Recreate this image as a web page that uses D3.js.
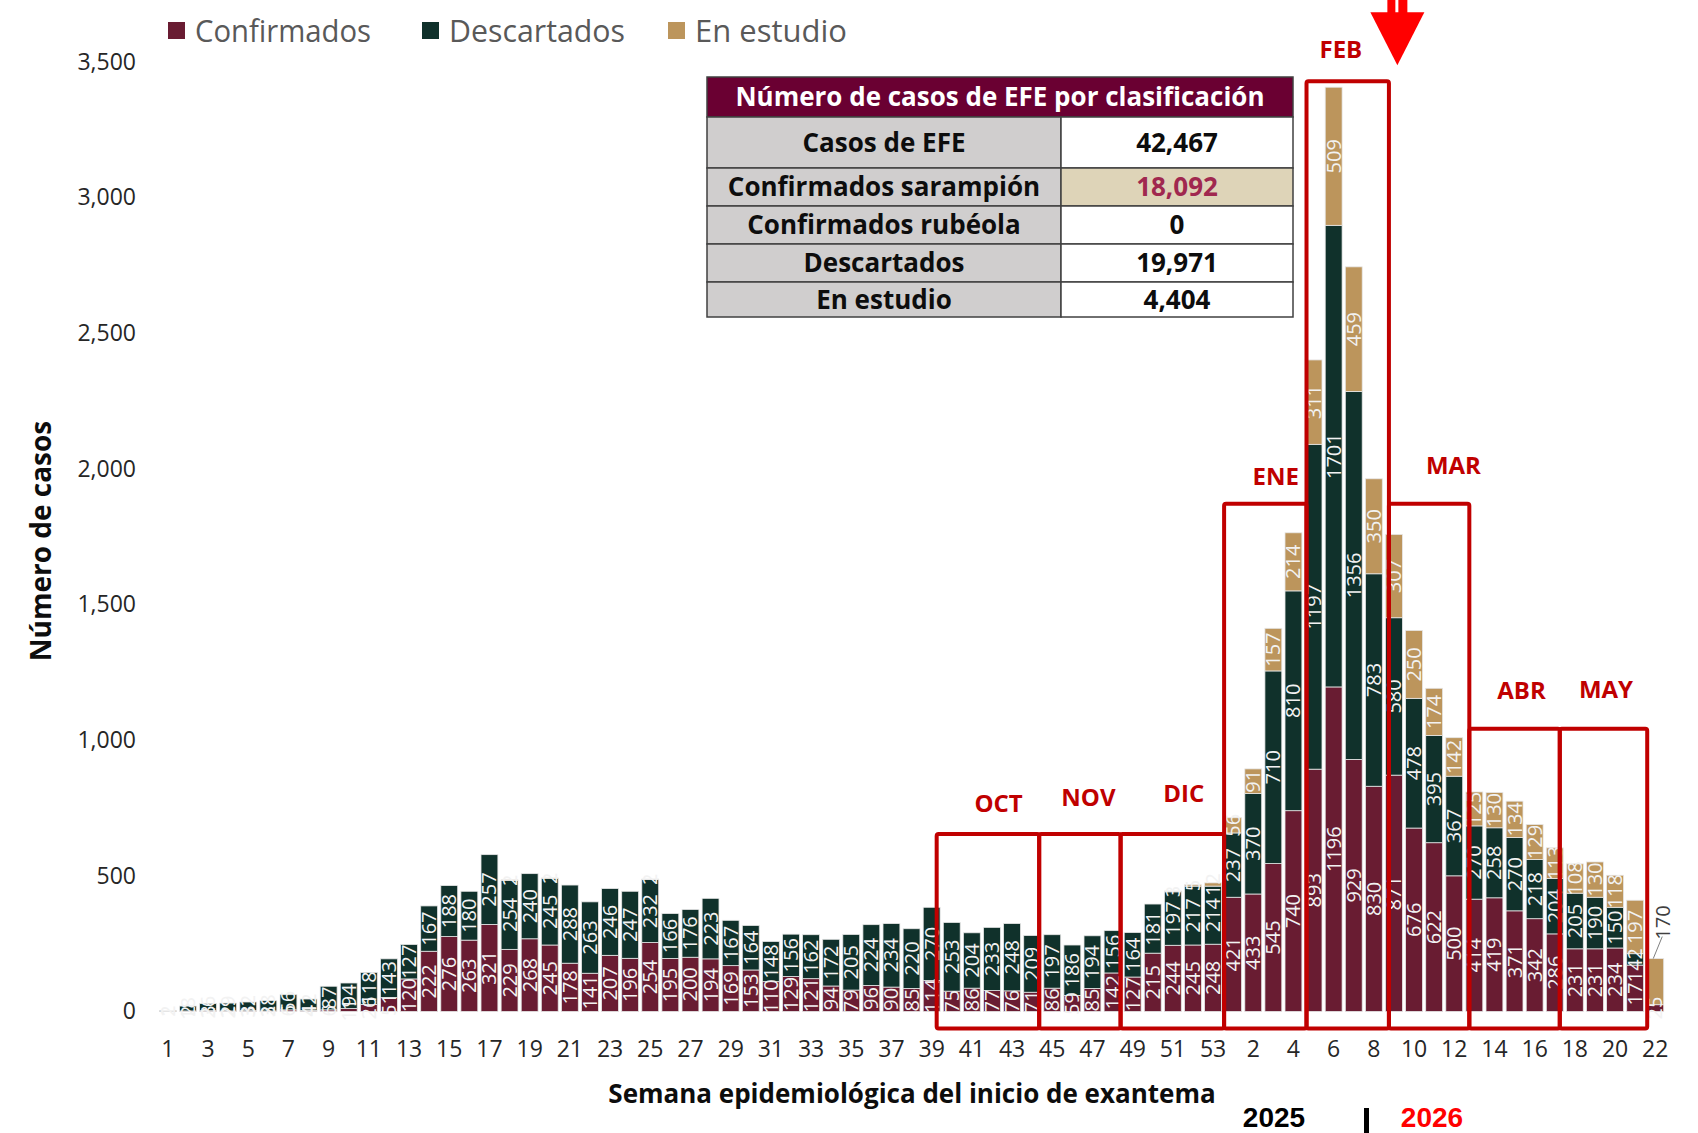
<!DOCTYPE html>
<html>
<head>
<meta charset="utf-8">
<script src="https://cdn.jsdelivr.net/npm/d3@7"></script>
<style>
  body { margin: 0; background: #fff; }
  svg { display: block; font-family: "Open Sans", "Noto Sans", sans-serif; }
</style>
</head>
<body>
<svg id="chart" width="1698" height="1133"></svg>
<script>
// semanas: 2025 (1-53) y 2026 (1-22)
var semanas2025 = d3.range(1, 54);
var semanas2026 = d3.range(1, 23);

var confirmados2025 = [1,2,3,2,3,2,6,4,6,11, 26,51,120,222,276,263,321,229,268,245,
  178,141,207,196,254,195,200,194,169,153, 110,129,121,94,79,96,90,85,114,75,
  86,77,76,71,86,59,85,142,127,215, 244,245,248];
var descartados2025 = [2,18,26,29,32,38,56,42,87,94, 118,143,127,167,188,180,257,254,240,245,
  288,263,246,247,232,166,176,223,167,164, 148,156,162,172,205,224,234,220,270,253,
  204,233,248,209,197,186,194,156,164,181, 197,217,214];
var enEstudio2025 = [0,0,0,0,0,0,0,0,0,0, 0,0,0,0,0,0,0,2,0,2,
  0,0,0,0,2,0,0,0,0,0, 0,0,0,0,0,0,0,0,0,0,
  0,0,0,0,0,0,0,0,0,0, 3,5,12];

var confirmados2026 = [421,433,545,740,893,1196,929,830,871,676,622,500,414,419,371,342,286,231,231,234,171,25];
var descartados2026 = [237,370,710,810,1197,1701,1356,783,580,478,395,367,270,258,270,218,204,205,190,150,42,0];
var enEstudio2026 = [56,91,157,214,311,509,459,350,307,250,174,142,125,130,134,129,113,108,130,118,197,170];

var serieNombres = ["Confirmados", "Descartados", "En estudio"];
var serieColores = ["#691c32", "#10312b", "#bc955c"];
var yTicks = [0, 500, 1000, 1500, 2000, 2500, 3000, 3500];

// tabla resumen
var tablaTitulo = "Número de casos de EFE por clasificación";
var tablaFilas = ["Casos de EFE", "Confirmados sarampión", "Confirmados rubéola", "Descartados", "En estudio"];
var tablaValores = ["42,467", "18,092", "0", "19,971", "4,404"];

// recuadros de meses (posición en índice de semana / valor de casos)
var meses = ["OCT", "NOV", "DIC", "ENE", "FEB", "MAR", "ABR", "MAY"];
var mesInicio = [38.25, 43.35, 47.4, 52.55, 56.65, 60.75, 64.75, 69.25];
var mesFin = [43.35, 47.4, 52.55, 56.65, 60.75, 64.75, 69.25, 73.6];
var mesTope = [654, 654, 654, 1871, 3428, 1871, 1042, 1042];
var mesEtiquetaX = [41.33, 45.8, 50.54, 55.12, 58.36, 63.96, 67.35, 71.55];
var mesEtiquetaY = [766, 787, 802, 1971, 3543, 2011, 1181, 1185];
var mesBase = -63;
var flechaSemana = 61.17, flechaValor = 3487;

// armar filas
var rows = [];
semanas2025.forEach(function(w, i){
  rows.push({key:"a"+w, label:w, vals:[confirmados2025[i], descartados2025[i], enEstudio2025[i]]});
});
semanas2026.forEach(function(w, i){
  rows.push({key:"b"+w, label:w, vals:[confirmados2026[i], descartados2026[i], enEstudio2026[i]]});
});

var svg = d3.select("#chart");

var x = d3.scaleBand().domain(rows.map(function(d){return d.key;}))
  .range([157.8, 1665.3]).paddingInner(0.16).paddingOuter(0.08);
var y = d3.scaleLinear().domain([0, 3500]).range([1011.5, 61.7]);
// posición continua por índice de semana (centro de barra)
var xi = d3.scaleLinear().domain([0, rows.length-1])
  .range([x(rows[0].key)+x.bandwidth()/2, x(rows[rows.length-1].key)+x.bandwidth()/2]);

function fit(sel, w)
{
  sel.each(function(){
    var l = this.getComputedTextLength();
    if (l > w) d3.select(this).attr("textLength", w).attr("lengthAdjust", "spacingAndGlyphs");
  });
  return sel;
}

// eje y
var yAxis = svg.append("g").attr("transform", "translate(136,0)")
  .call(d3.axisLeft(y).tickValues(yTicks).tickFormat(d3.format(",")).tickSize(0).tickPadding(0));
yAxis.select(".domain").remove();
yAxis.selectAll("text").attr("font-size", 23).attr("fill", "#262626")
  .attr("font-family", "Open Sans, sans-serif");

// eje x
var xAxis = svg.append("g").attr("transform", "translate(0,1041)")
  .call(d3.axisBottom(x).tickSize(0).tickPadding(0)
    .tickFormat(function(k, i){ var r = rows[i]; return (r.label % 2 == (k[0]=="a"?1:0)) ? r.label : ""; }));
xAxis.select(".domain").remove();
xAxis.selectAll("text").attr("font-size", 23).attr("fill", "#262626")
  .attr("font-family", "Open Sans, sans-serif").attr("dy", "0.71em");

// barras apiladas
var stack = d3.stack().keys([0,1,2]).value(function(d, k){return d.vals[k];});
var series = stack(rows);

var layers = svg.append("g").selectAll("g").data(series).enter().append("g")
  .attr("fill", function(s){return serieColores[s.key];});
layers.selectAll("rect").data(function(s){return s;}).enter().append("rect")
  .attr("x", function(d){return x(d.data.key);})
  .attr("width", x.bandwidth())
  .attr("y", function(d){return y(d[1]);})
  .attr("height", function(d){return y(d[0]) - y(d[1]);})
  .attr("stroke", "#e6e6e6").attr("stroke-width", 0.8);

// etiquetas de valores
var lastKey = rows[rows.length-1].key;
series.forEach(function(s){
  s.forEach(function(d){
    var v = d.data.vals[s.key];
    if (!v) return;
    var cx = x(d.data.key) + x.bandwidth()/2;
    if (s.key == 2 && d.data.key == lastKey)
    {
      // etiqueta fuera de la barra con línea guía
      var ty = y(d[1]) - 36;
      svg.append("line").attr("x1", cx - 2).attr("y1", y(d[1]))
        .attr("x2", cx + 7).attr("y2", ty + 14)
        .attr("stroke", "#7f7f7f").attr("stroke-width", 1);
      svg.append("text").attr("transform", "translate(" + (cx + 8) + "," + ty + ") rotate(-90)")
        .attr("text-anchor", "middle").attr("dy", "0.35em")
        .attr("font-size", 20).attr("fill", "#404040").text(v);
      return;
    }
    var cy = (y(d[0]) + y(d[1]))/2;
    svg.append("text").attr("transform", "translate(" + cx + "," + cy + ") rotate(-90)")
      .attr("text-anchor", "middle").attr("dy", "0.35em")
      .attr("font-size", 20).attr("fill", "#f2f2f2").text(v);
  });
});

// recuadros rojos de meses
var boxG = svg.append("g");
meses.forEach(function(m, i){
  boxG.append("rect")
    .attr("x", xi(mesInicio[i])).attr("y", y(mesTope[i]))
    .attr("width", xi(mesFin[i]) - xi(mesInicio[i]))
    .attr("height", y(mesBase) - y(mesTope[i]))
    .attr("rx", 2)
    .attr("fill", "none").attr("stroke", "#c00000").attr("stroke-width", 4);
  boxG.append("text").attr("x", xi(mesEtiquetaX[i])).attr("y", y(mesEtiquetaY[i]))
    .attr("text-anchor", "middle").attr("dy", "0.35em")
    .attr("font-size", 24).attr("font-weight", "bold").attr("fill", "#c00000").text(m);
});

// flecha roja
var ax = xi(flechaSemana), ay = y(flechaValor);
svg.append("path").attr("d", "M" + (ax-27) + "," + (ay-53) + "L" + (ax+27) + "," + (ay-53) + "L" + ax + "," + ay + "Z")
  .attr("fill", "#ff0000");
svg.append("rect").attr("x", ax-10).attr("y", ay-66).attr("width", 8).attr("height", 14).attr("fill", "#ff0000");
svg.append("rect").attr("x", ax+1).attr("y", ay-66).attr("width", 9).attr("height", 14).attr("fill", "#ff0000");

// leyenda
var legX = [168, 422, 668];
serieNombres.forEach(function(n, i){
  svg.append("rect").attr("x", legX[i]).attr("y", 22).attr("width", 17).attr("height", 17)
    .attr("fill", serieColores[i]);
  fit(svg.append("text").attr("x", legX[i] + 27).attr("y", 31).attr("dy", "0.35em")
    .attr("font-size", 31).attr("fill", "#595959").text(n), 176);
});

// títulos de ejes
fit(svg.append("text").attr("transform", "translate(41,541) rotate(-90)")
  .attr("text-anchor", "middle").attr("dy", "0.35em")
  .attr("font-size", 28).attr("font-weight", "bold").attr("fill", "#0d0d0d")
  .text("Número de casos"), 252);
fit(svg.append("text").attr("x", 912).attr("y", 1094).attr("text-anchor", "middle").attr("dy", "0.35em")
  .attr("font-size", 26).attr("font-weight", "bold").attr("fill", "#0d0d0d")
  .text("Semana epidemiológica del inicio de exantema"), 611);

// años
svg.append("text").attr("x", 1274).attr("y", 1117).attr("text-anchor", "middle").attr("dy", "0.35em")
  .attr("font-family", "Liberation Sans, Arial, sans-serif")
  .attr("font-size", 28).attr("font-weight", "bold").attr("fill", "#000").text("2025");
svg.append("rect").attr("x", 1364).attr("y", 1108).attr("width", 5).attr("height", 25).attr("fill", "#000");
svg.append("text").attr("x", 1432).attr("y", 1117).attr("text-anchor", "middle").attr("dy", "0.35em")
  .attr("font-family", "Liberation Sans, Arial, sans-serif")
  .attr("font-size", 28).attr("font-weight", "bold").attr("fill", "#ff0000").text("2026");

// tabla
var tX = [707, 1061, 1293];
var tY = [77, 117, 168, 206, 244, 282, 317];
var tabla = svg.append("g");
tabla.append("rect").attr("x", tX[0]).attr("y", tY[0]).attr("width", tX[2]-tX[0]).attr("height", tY[1]-tY[0])
  .attr("fill", "#6a0032").attr("stroke", "#404040").attr("stroke-width", 1.5);
fit(tabla.append("text").attr("x", (tX[0]+tX[2])/2).attr("y", (tY[0]+tY[1])/2).attr("text-anchor", "middle")
  .attr("dy", "0.35em").attr("font-size", 27).attr("font-weight", "bold").attr("fill", "#fff")
  .text(tablaTitulo), 529);
tablaFilas.forEach(function(f, i){
  var y0 = tY[i+1], y1 = tY[i+2];
  tabla.append("rect").attr("x", tX[0]).attr("y", y0).attr("width", tX[1]-tX[0]).attr("height", y1-y0)
    .attr("fill", "#d0cece").attr("stroke", "#404040").attr("stroke-width", 1.5);
  tabla.append("rect").attr("x", tX[1]).attr("y", y0).attr("width", tX[2]-tX[1]).attr("height", y1-y0)
    .attr("fill", i == 1 ? "#ded4b8" : "#fff").attr("stroke", "#404040").attr("stroke-width", 1.5);
  fit(tabla.append("text").attr("x", (tX[0]+tX[1])/2).attr("y", (y0+y1)/2).attr("text-anchor", "middle")
    .attr("dy", "0.35em").attr("font-size", 26).attr("font-weight", "bold").attr("fill", "#0d0d0d")
    .text(f), f.length * 15);
  tabla.append("text").attr("x", (tX[1]+tX[2])/2).attr("y", (y0+y1)/2).attr("text-anchor", "middle")
    .attr("dy", "0.35em").attr("font-size", 26).attr("font-weight", "bold")
    .attr("fill", i == 1 ? "#a0284f" : "#0d0d0d").text(tablaValores[i]);
});
</script>
</body>
</html>
